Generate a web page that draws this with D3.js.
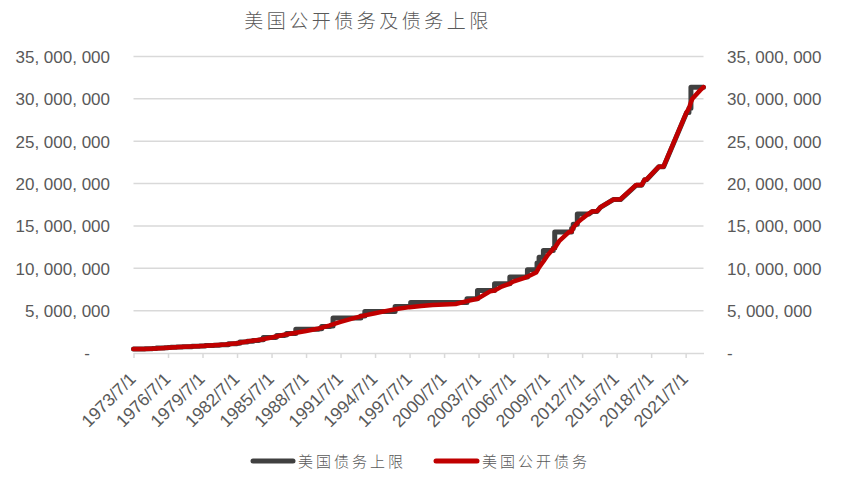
<!DOCTYPE html>
<html><head><meta charset="utf-8">
<script src="https://cdn.jsdelivr.net/npm/d3@7"></script>
<style>
html,body{margin:0;padding:0;background:#fff;}
svg{display:block;}
</style></head>
<body>
<svg id="chart" width="850" height="483"></svg>
<script>
// ---------- data (values in million USD) ----------
const title = "美国公开债务及债务上限";
const seriesNames = ["美国债务上限", "美国公开债务"];

const debtDates = [
 "1973-07-01","1974-07-01","1975-07-01","1976-07-01","1977-07-01","1978-07-01","1979-07-01",
 "1980-07-01","1981-07-01","1982-07-01","1983-07-01","1984-07-01","1985-07-01","1986-07-01",
 "1987-07-01","1988-07-01","1989-07-01","1990-07-01","1991-07-01","1992-07-01","1993-07-01",
 "1994-07-01","1995-07-01","1996-07-01","1997-07-01","1998-07-01","1999-07-01","2000-07-01",
 "2001-07-01","2002-06-28","2003-05-27","2004-07-01","2004-11-19","2005-07-01","2006-03-20",
 "2006-07-01","2007-07-01","2007-09-29","2008-07-01","2008-10-03","2009-02-17","2009-07-01",
 "2009-12-28","2010-02-12","2010-07-01","2011-05-16","2011-08-02","2011-09-22","2012-01-30",
 "2012-07-01","2012-12-31","2013-05-19","2013-10-17","2014-02-07","2015-03-16","2015-10-30",
 "2017-03-16","2017-09-08","2017-12-08","2018-02-09","2019-03-02","2019-08-02","2021-08-01",
 "2021-10-14","2021-12-16","2022-01-31","2022-10-01","2023-01-19"
];
const debtValues = [
 458000,476000,534000,621000,699000,772000,827000,
 908000,998000,1142000,1377000,1572000,1823000,2125000,
 2350000,2602000,2857000,3233000,3665000,4065000,4411000,
 4693000,4974000,5225000,5413000,5546000,5666000,5716000,
 5787000,6126000,6400000,7274000,7384000,7837000,8184000,
 8420000,8867000,9007000,9492000,10100000,10800000,11545000,
 12311000,12400000,13202000,14294000,14342000,14800000,15356000,
 15856000,16394000,16699000,16747000,17212000,18113000,18153000,
 19846000,19844000,20456000,20493000,21988000,22023000,28427000,
 28881000,29617000,30012000,31000000,31381000
];

// debt limit changes; null = limit suspended (limit follows debt)
const limitDates = [
 "1973-07-01","1973-12-03","1974-06-30","1975-02-19","1975-06-30","1975-11-14","1976-03-15",
 "1976-06-30","1976-10-01","1977-04-01","1977-10-04","1978-08-03","1979-04-02","1979-09-29",
 "1980-06-28","1980-12-19","1981-02-07","1981-09-30","1982-06-28","1982-09-30","1983-05-26",
 "1983-11-21","1984-05-25","1984-07-06","1984-10-13","1985-11-14","1985-12-12","1986-08-21",
 "1986-10-21","1987-08-10","1989-08-07","1989-11-08","1990-08-09","1990-11-05","1993-04-06",
 "1993-08-10","1996-03-29","1997-08-05","2002-06-28","2003-05-27","2004-11-19","2006-03-20",
 "2007-09-29","2008-07-30","2008-10-03","2009-02-17","2009-12-28","2010-02-12","2011-08-02",
 "2011-09-22","2012-01-30","2013-02-04","2013-05-19","2013-10-17","2014-02-07","2014-02-15",
 "2015-03-16","2015-11-02","2017-03-16","2017-09-08","2017-12-08","2018-02-09","2019-03-02",
 "2019-08-02","2021-08-01","2021-10-14","2021-12-16"
];
const limitValues = [
 465000,475700,495000,531000,577000,595000,627000,
 636000,682000,700000,752000,798000,830000,879000,
 925000,935100,985000,1079800,1143100,1290200,1389000,
 1490000,1520000,1573000,1823800,1903800,2078700,2111000,
 2300000,2800000,2870000,3122700,3195000,4145000,4370000,
 4900000,5500000,5950000,6400000,7384000,8184000,8965000,
 9815000,10615000,11315000,12104000,12394000,14294000,14694000,
 15194000,16394000,null,16699000,null,17212000,null,
 18113000,null,19809000,null,20456000,null,21988000,
 null,28401000,28881000,31381000
];

const xTickLabels = ["1973/7/1","1976/7/1","1979/7/1","1982/7/1","1985/7/1","1988/7/1","1991/7/1",
 "1994/7/1","1997/7/1","2000/7/1","2003/7/1","2006/7/1","2009/7/1","2012/7/1","2015/7/1",
 "2018/7/1","2021/7/1"];
const yTickValues = [0,5000000,10000000,15000000,20000000,25000000,30000000,35000000];

// ---------- build ----------
const parse = d3.timeParse("%Y-%m-%d");
const parseTick = d3.timeParse("%Y/%m/%d");
const debt = debtDates.map((d,i)=>({date:parse(d), value:debtValues[i]}));
const limitEvents = limitDates.map((d,i)=>({date:parse(d), value:limitValues[i]}));

// limit path: steps at each change, follows debt while suspended
const limitPts = [];
limitEvents.forEach((e,i)=>{
  const prev = i>0 ? limitEvents[i-1] : null;
  if (e.value !== null) {
    if (prev && prev.value !== null) limitPts.push({date:e.date, value:prev.value});
    limitPts.push({date:e.date, value:e.value});
  } else {
    limitPts.push({date:e.date, value:prev.value});
    const next = limitEvents[i+1];
    debt.forEach(p=>{ if (p.date>e.date && next && p.date<next.date) limitPts.push(p); });
  }
});
limitPts.push({date:debt[debt.length-1].date, value:limitEvents[limitEvents.length-1].value});

const svg = d3.select("#chart");
const x = d3.scaleTime()
  .domain([debt[0].date, debt[debt.length-1].date])
  .range([133.5, 703.5]);
const y = d3.scaleLinear().domain([0, 35000000]).range([353, 56.5]);

const numFont = "'Liberation Sans', Arial, sans-serif";
const cjkFont = "'Noto Sans CJK SC', sans-serif";
const txtColor = "#595959";
const gridColor = "#d9d9d9";

// title
svg.append("text")
  .attr("x", 368).attr("y", 28)
  .attr("text-anchor","middle")
  .style("font-family", cjkFont).style("font-size","19px").style("font-weight","300")
  .style("letter-spacing","3.5px")
  .attr("fill", txtColor)
  .text(title);

// gridlines
svg.append("g").selectAll("line").data(yTickValues.filter(v=>v>0)).join("line")
  .attr("x1", x.range()[0]).attr("x2", x.range()[1])
  .attr("y1", d=>y(d)).attr("y2", d=>y(d))
  .attr("stroke", gridColor).attr("stroke-width", 1.5);

// x axis
const xTicks = xTickLabels.map(s=>parseTick(s));
const xAxis = d3.axisBottom(x).tickValues(xTicks).tickSize(5).tickSizeOuter(0)
  .tickFormat((d,i)=>xTickLabels[i]);
const gx = svg.append("g").attr("transform","translate(0,353)").call(xAxis);
gx.select(".domain").attr("stroke", gridColor).attr("stroke-width",1.5);
gx.selectAll(".tick line").attr("stroke", gridColor).attr("stroke-width",1.5);
gx.selectAll(".tick text")
  .attr("y", 0).attr("dy", 0)
  .attr("transform","translate(3,27) rotate(-45)")
  .attr("text-anchor","end")
  .style("font-family", numFont).style("font-size","17.5px")
  .attr("fill", txtColor);

// y axes (left & right)
const fmt = v => v===0 ? "-" : d3.format(",")(v).replace(/,/g, ", ");
const yl = d3.axisLeft(y).tickValues(yTickValues).tickSize(0).tickFormat(fmt);
const gyl = svg.append("g").attr("transform","translate(110,0)").call(yl);
gyl.select(".domain").remove();
gyl.selectAll(".tick text").attr("x", d=>d===0?-20:0).attr("dy","0.35em")
  .style("font-family", numFont).style("font-size","17px").attr("fill", txtColor);
const yr = d3.axisRight(y).tickValues(yTickValues).tickSize(0).tickFormat(fmt);
const gyr = svg.append("g").attr("transform","translate(727,0)").call(yr);
gyr.select(".domain").remove();
gyr.selectAll(".tick text").attr("x", 0).attr("dy","0.35em")
  .style("font-family", numFont).style("font-size","17px").attr("fill", txtColor);

// lines
const line = d3.line().x(d=>x(d.date)).y(d=>y(d.value));
svg.append("path").datum(limitPts).attr("d", line)
  .attr("fill","none").attr("stroke","#404040").attr("stroke-width",5)
  .attr("stroke-linejoin","round").attr("stroke-linecap","round");
svg.append("path").datum(debt).attr("d", line)
  .attr("fill","none").attr("stroke","#C00000").attr("stroke-width",4.5)
  .attr("stroke-linejoin","round").attr("stroke-linecap","round");

// legend
const legend = [
  {name: seriesNames[0], color:"#404040", x1:253, x2:293},
  {name: seriesNames[1], color:"#C00000", x1:436, x2:477}
];
const lg = svg.append("g");
legend.forEach(l=>{
  lg.append("line").attr("x1",l.x1).attr("x2",l.x2).attr("y1",461).attr("y2",461)
    .attr("stroke", l.color).attr("stroke-width",5).attr("stroke-linecap","round");
  lg.append("text").attr("x", l.x2+5).attr("y", 467)
    .style("font-family", cjkFont).style("font-size","15px").style("font-weight","300")
    .style("letter-spacing","3px").attr("fill", txtColor).text(l.name);
});
</script>
</body></html>
